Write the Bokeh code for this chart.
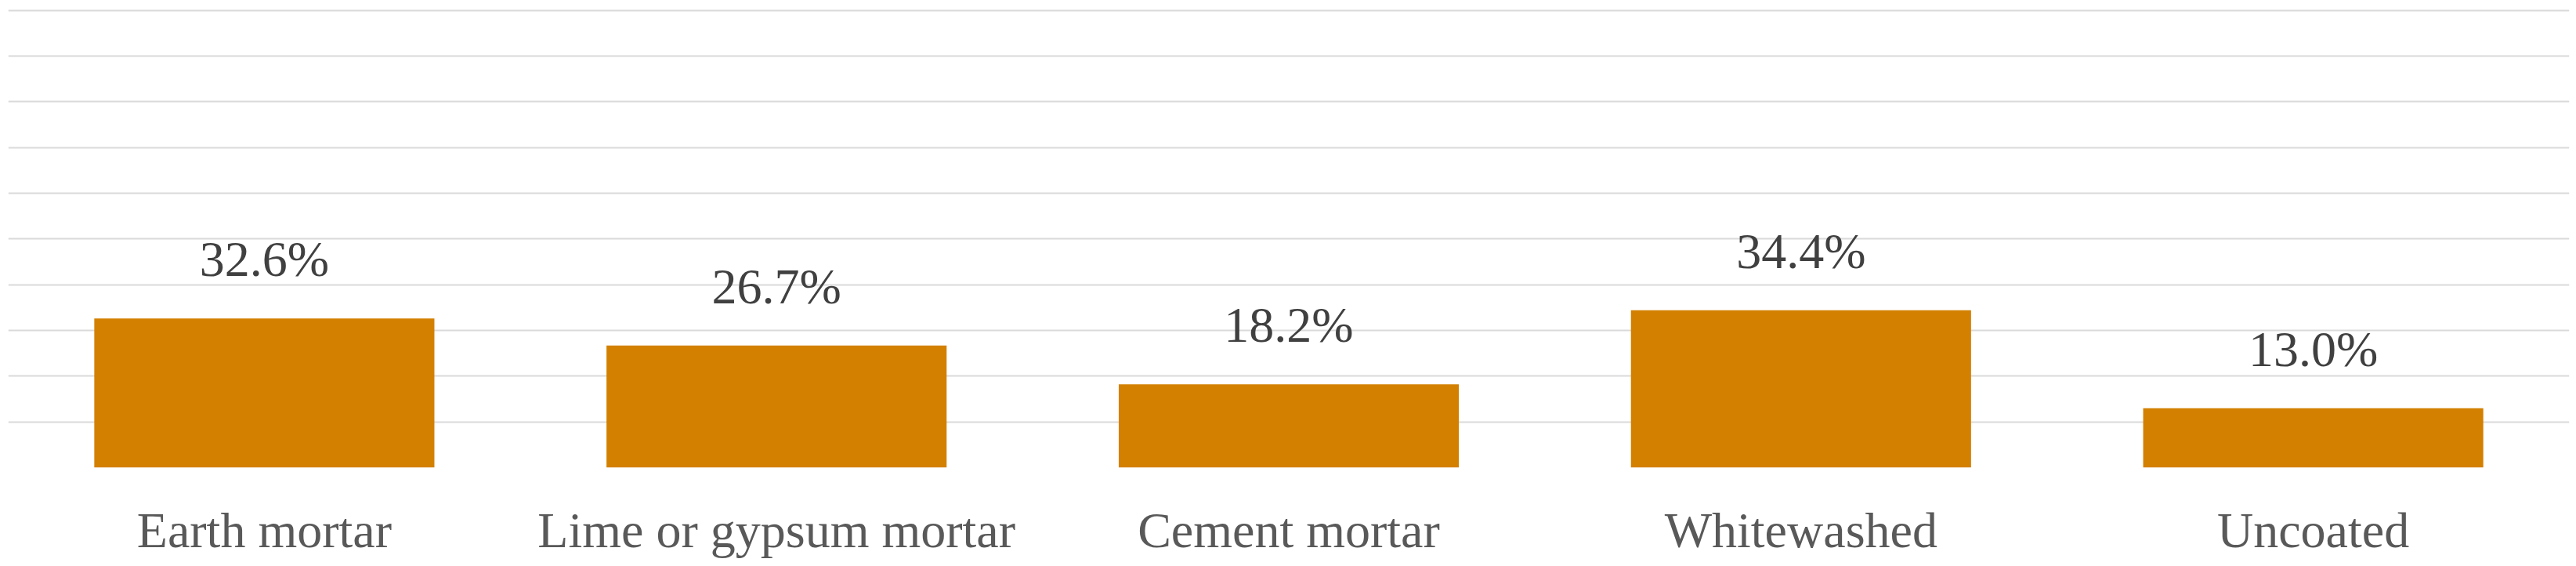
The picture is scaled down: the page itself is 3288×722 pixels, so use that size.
from bokeh.plotting import figure
from bokeh.models import ColumnDataSource, FactorRange, Range1d, FixedTicker, LabelSet
from bokeh.embed import file_html
from bokeh.resources import INLINE

categories = ["Earth mortar", "Lime or gypsum mortar", "Cement mortar", "Whitewashed", "Uncoated"]
values = [32.6, 26.7, 18.2, 34.4, 13.0]
labels = [f"{v:.1f}%" for v in values]
grid_ticks = [0, 10, 20, 30, 40, 50, 60, 70, 80, 90, 100]

FONT = "Liberation Serif"

src = ColumnDataSource(dict(cat=categories, val=values, lab=labels))

p = figure(
    x_range=FactorRange(*categories, range_padding=0),
    y_range=Range1d(0, 100.46),
    width=3280, height=716,
    output_backend="svg", toolbar_location=None,
    min_border_left=10, min_border_right=1, min_border_top=10, min_border_bottom=120,
)
p.outline_line_color = None
p.background_fill_color = "white"
p.border_fill_color = "white"

p.vbar(x="cat", top="val", width=0.664, source=src, color="#D38000", line_color=None)

p.xgrid.visible = False
p.ygrid.ticker = FixedTicker(ticks=grid_ticks)
p.ygrid.grid_line_color = "#DADADA"
p.ygrid.grid_line_width = 2
p.yaxis.visible = False

ax = p.xaxis[0]
ax.axis_line_color = None
ax.major_tick_line_color = None
ax.minor_tick_line_color = None
ax.major_tick_out = 0
ax.major_label_standoff = 44
ax.major_label_text_font = FONT
ax.major_label_text_font_size = "64px"
ax.major_label_text_color = "#595959"

lbl = LabelSet(x="cat", y="val", text="lab", source=src, y_offset=54,
               text_align="center", text_baseline="alphabetic",
               text_font=FONT, text_font_size="64px", text_color="#404040")
p.add_layout(lbl)

open("out.html", "w").write(file_html(p, INLINE))
